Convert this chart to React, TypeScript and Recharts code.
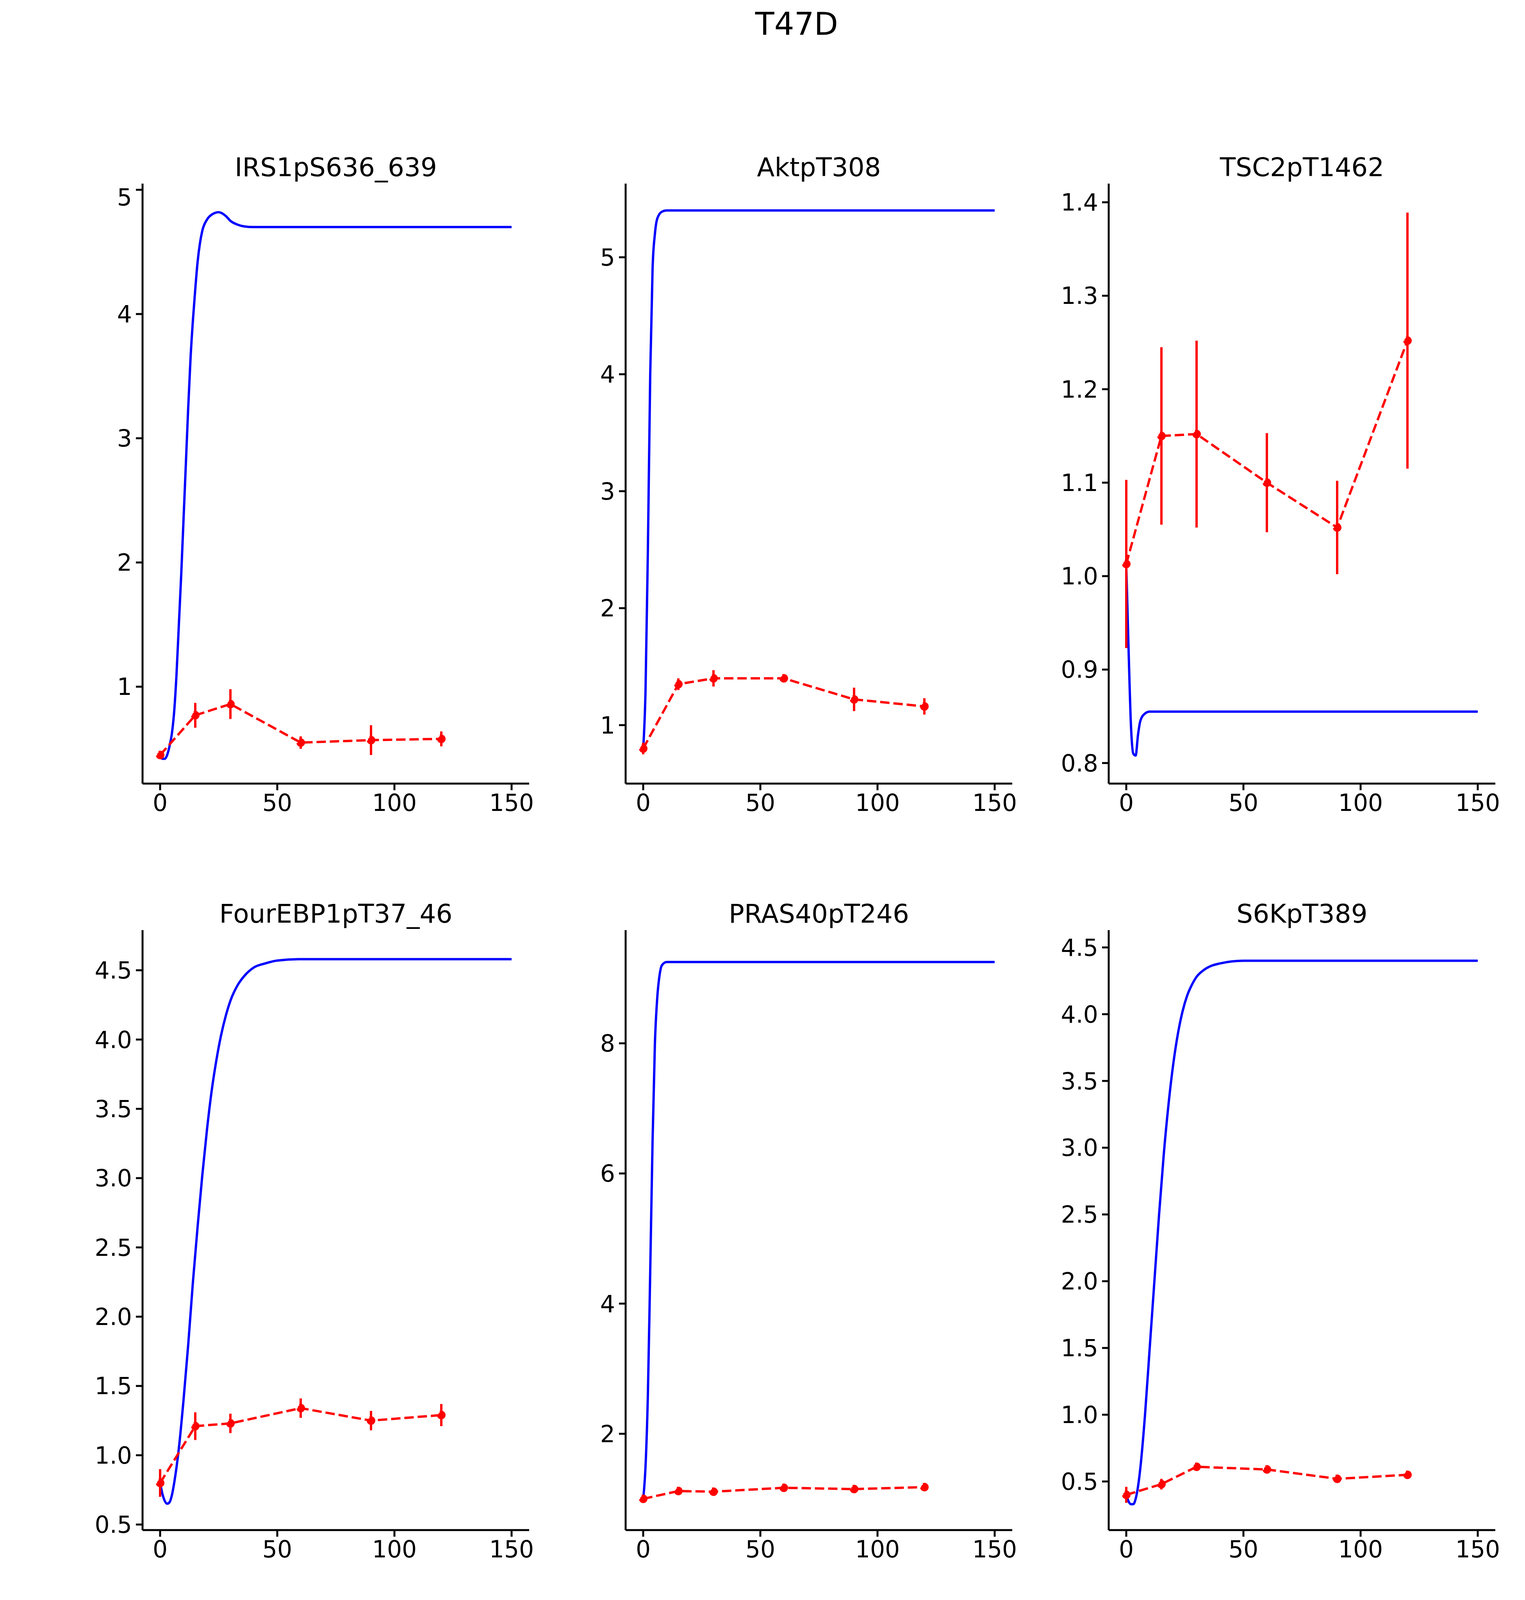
import { ComposedChart, Line, XAxis, YAxis, ErrorBar } from 'recharts';

const expTimes = [0, 15, 30, 60, 90, 120];
const xTicks = [0, 50, 100, 150];

// simulated curves: [time, value]
const irsSim = [[0, 0.45], [1, 0.42], [2, 0.42], [3, 0.45], [4, 0.52], [5, 0.62], [6, 0.8], [7, 1.1], [8, 1.5], [9, 1.9], [10, 2.35], [11, 2.8], [12, 3.25], [13, 3.65], [14, 3.95], [15, 4.2], [16, 4.42], [17, 4.57], [18, 4.67], [20, 4.76], [22, 4.8], [25, 4.82], [28, 4.79], [30, 4.75], [33, 4.72], [36, 4.705], [40, 4.7], [150, 4.7]];
const irsExp = [0.45, 0.77, 0.86, 0.55, 0.57, 0.58];
const irsErr = [0.02, 0.1, 0.12, 0.05, 0.12, 0.06];

const aktSim = [[0, 0.8], [1, 1.3], [2, 2.5], [3, 4.0], [4, 4.9], [5, 5.2], [6, 5.33], [8, 5.39], [10, 5.4], [150, 5.4]];
const aktExp = [0.8, 1.35, 1.4, 1.4, 1.22, 1.16];
const aktErr = [0.05, 0.05, 0.07, 0.02, 0.1, 0.07];

const tscSim = [[0, 1.01], [1, 0.92], [2, 0.84], [3, 0.81], [4, 0.808], [5, 0.83], [6, 0.845], [8, 0.853], [10, 0.855], [150, 0.855]];
const tscExp = [1.013, 1.15, 1.152, 1.1, 1.052, 1.252];
const tscErr = [0.09, 0.095, 0.1, 0.053, 0.05, 0.137];

const ebpSim = [[0, 0.8], [1, 0.72], [2, 0.67], [3, 0.65], [4, 0.66], [5, 0.71], [6, 0.8], [8, 1.05], [10, 1.4], [12, 1.8], [14, 2.25], [16, 2.65], [18, 3.02], [20, 3.35], [22, 3.63], [24, 3.85], [26, 4.03], [28, 4.17], [30, 4.28], [33, 4.39], [36, 4.46], [40, 4.52], [45, 4.55], [50, 4.57], [60, 4.58], [150, 4.58]];
const ebpExp = [0.8, 1.21, 1.23, 1.34, 1.25, 1.29];
const ebpErr = [0.1, 0.1, 0.07, 0.07, 0.07, 0.08];

const prasSim = [[0, 1.0], [1, 1.5], [2, 2.6], [3, 4.5], [4, 6.5], [5, 8.0], [6, 8.7], [7, 9.05], [8, 9.2], [10, 9.25], [150, 9.25]];
const prasExp = [1.0, 1.12, 1.11, 1.17, 1.15, 1.18];
const prasErr = [0.03, 0.03, 0.03, 0.03, 0.03, 0.05];

const s6kSim = [[0, 0.4], [1, 0.35], [2, 0.33], [3, 0.33], [4, 0.37], [5, 0.46], [6, 0.6], [8, 1.0], [10, 1.5], [12, 2.0], [14, 2.5], [16, 2.95], [18, 3.32], [20, 3.62], [22, 3.85], [24, 4.02], [26, 4.14], [28, 4.22], [30, 4.28], [33, 4.33], [36, 4.36], [40, 4.38], [50, 4.4], [150, 4.4]];
const s6kExp = [0.4, 0.48, 0.61, 0.59, 0.52, 0.55];
const s6kErr = [0.06, 0.04, 0.02, 0.02, 0.02, 0.03];

const FONT = 'DejaVu Sans';
const PLOT_W = 990;
const PLOT_H = 1536;
const Y_W = 250;
const X_H = 150;
const R_M = 90;

interface PanelProps {
  title: string;
  left: number;
  top: number;
  sim: number[][];
  exp: number[];
  err: number[];
  domain: [number, number];
  ticks: number[];
  decimals: number;
}

function Panel({ title, left, top, sim, exp, err, domain, ticks, decimals }: PanelProps) {
  const simData = sim.map(([t, v]) => ({ t, v }));
  const expData = expTimes.map((t, i) => ({ t, v: exp[i], e: err[i] }));
  const tickStyle = { fontSize: 60, fill: '#000', fontFamily: FONT };
  const axisLine = { stroke: '#000', strokeWidth: 5 };
  return (
    <div style={{ position: 'absolute', left: left - Y_W, top }}>
      <div style={{ position: 'absolute', left: Y_W, width: PLOT_W, top: -80, textAlign: 'center', fontSize: 66, fontFamily: FONT }}>{title}</div>
      <ComposedChart width={Y_W + PLOT_W + R_M} height={PLOT_H + X_H} margin={{ top: 0, right: R_M, left: 0, bottom: 0 }}>
        <XAxis type="number" dataKey="t" domain={[-7.5, 157.5]} ticks={xTicks} allowDataOverflow
          height={X_H} tick={tickStyle} axisLine={axisLine} tickLine={axisLine} tickSize={17} tickMargin={10} />
        <YAxis type="number" domain={domain} ticks={ticks} allowDataOverflow width={Y_W}
          tick={tickStyle} axisLine={axisLine} tickLine={axisLine} tickSize={17} tickMargin={10}
          tickFormatter={(v: number) => v.toFixed(decimals)} />
        <Line data={simData} dataKey="v" type="monotone" stroke="#0000ff" strokeWidth={6} dot={false} isAnimationActive={false} />
        <Line data={expData} dataKey="v" type="linear" stroke="#ff0000" strokeWidth={6} strokeDasharray="24 10"
          dot={{ r: 8, fill: '#ff0000', stroke: '#ff0000' }} isAnimationActive={false}>
          <ErrorBar dataKey="e" direction="y" stroke="#ff0000" strokeWidth={6} width={0} />
        </Line>
      </ComposedChart>
    </div>
  );
}

export default function App() {
  const cols = [365, 1602, 2839];
  const rows = [470, 2381];
  return (
    <div style={{ position: 'relative', margin: -8, width: 3905, height: 4358, background: '#fff', fontFamily: FONT, overflow: 'hidden' }}>
      <div style={{ position: 'absolute', left: 0, width: 4080, top: 15, textAlign: 'center', fontSize: 80 }}>T47D</div>
      <Panel title="IRS1pS636_639" left={cols[0]} top={rows[0]} sim={irsSim} exp={irsExp} err={irsErr} domain={[0.22, 5.05]} ticks={[1, 2, 3, 4, 5]} decimals={0} />
      <Panel title="AktpT308" left={cols[1]} top={rows[0]} sim={aktSim} exp={aktExp} err={aktErr} domain={[0.5, 5.63]} ticks={[1, 2, 3, 4, 5]} decimals={0} />
      <Panel title="TSC2pT1462" left={cols[2]} top={rows[0]} sim={tscSim} exp={tscExp} err={tscErr} domain={[0.778, 1.42]} ticks={[0.8, 0.9, 1.0, 1.1, 1.2, 1.3, 1.4]} decimals={1} />
      <Panel title="FourEBP1pT37_46" left={cols[0]} top={rows[1]} sim={ebpSim} exp={ebpExp} err={ebpErr} domain={[0.46, 4.79]} ticks={[0.5, 1, 1.5, 2, 2.5, 3, 3.5, 4, 4.5]} decimals={1} />
      <Panel title="PRAS40pT246" left={cols[1]} top={rows[1]} sim={prasSim} exp={prasExp} err={prasErr} domain={[0.52, 9.74]} ticks={[2, 4, 6, 8]} decimals={0} />
      <Panel title="S6KpT389" left={cols[2]} top={rows[1]} sim={s6kSim} exp={s6kExp} err={s6kErr} domain={[0.136, 4.63]} ticks={[0.5, 1, 1.5, 2, 2.5, 3, 3.5, 4, 4.5]} decimals={1} />
      <div style={{ position: 'absolute', left: 221, top: 4099, width: 3129, height: 116, border: '3px solid #ccc', borderRadius: 10, boxSizing: 'border-box', fontSize: 62 }}>
        <div style={{ position: 'absolute', left: 27, top: 52, width: 152, height: 6, background: '#ff0000' }} />
        <div style={{ position: 'absolute', left: 220, top: 18 }}>Experimental data</div>
        <div style={{ position: 'absolute', left: 2389, top: 52, width: 152, height: 6, background: '#0000ff' }} />
        <div style={{ position: 'absolute', left: 2584, top: 18 }}>Simulated data</div>
      </div>
    </div>
  );
}
